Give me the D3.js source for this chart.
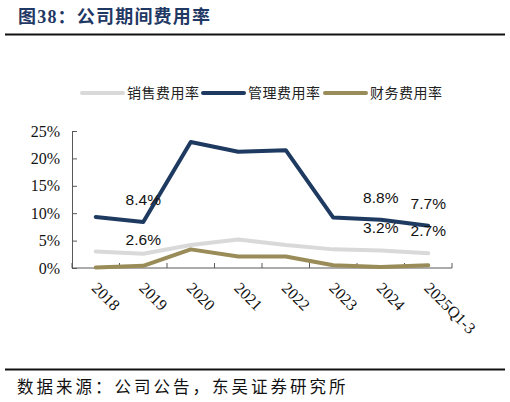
<!DOCTYPE html>
<html>
<head>
<meta charset="utf-8">
<script src="https://cdn.jsdelivr.net/npm/d3@7"></script>
<style>
  body { margin: 0; background: #fff; }
  svg { display: block; }
</style>
</head>
<body>
<div id="chart"></div>
<script>
const categories = ["2018", "2019", "2020", "2021", "2022", "2023", "2024", "2025Q1-3"];
const salesRate = [3.0, 2.6, 4.2, 5.2, 4.2, 3.4, 3.2, 2.7];
const mgmtRate = [9.3, 8.4, 23.0, 21.2, 21.5, 9.2, 8.8, 7.7];
const financeRate = [0.1, 0.4, 3.4, 2.1, 2.1, 0.5, 0.2, 0.5];
const seriesNames = ["销售费用率", "管理费用率", "财务费用率"];
const yTicks = [0, 5, 10, 15, 20, 25];
// which points get a value label: [series index, category index]
const labelled = [[1, 1], [1, 6], [1, 7], [0, 1], [0, 6], [0, 7]];

const W = 510, H = 402;
const colors = ["#d9d9d9", "#1f3a60", "#9a8c58"];
const series = [salesRate, mgmtRate, financeRate];

const svg = d3.select("#chart")
  .append("svg")
  .attr("width", W)
  .attr("height", H);

// title
svg.append("text")
  .attr("x", 18)
  .attr("y", 23)
  .attr("font-family", "'Liberation Serif', 'Noto Sans CJK SC', serif")
  .attr("font-weight", "bold")
  .attr("font-size", "18px")
  .attr("letter-spacing", "1.2px")
  .attr("fill", "#1f3864")
  .text("图38：公司期间费用率");

svg.append("line")
  .attr("x1", 5).attr("x2", 505)
  .attr("y1", 34.5).attr("y2", 34.5)
  .attr("stroke", "#111").attr("stroke-width", 2);

// scales
const x = d3.scaleBand()
  .domain(categories)
  .range([72, 452]);

const y = d3.scaleLinear()
  .domain([0, 25])
  .range([268, 131]);

const cx = d => x(d) + x.bandwidth() / 2;

// y axis
const yAxis = svg.append("g")
  .attr("transform", "translate(72,0)")
  .call(d3.axisLeft(y)
    .tickValues(yTicks)
    .tickSizeInner(-5)
    .tickSizeOuter(0)
    .tickPadding(12)
    .tickFormat(d => d + "%"));

yAxis.select(".domain").attr("stroke", "#595959");
yAxis.selectAll(".tick line").attr("stroke", "#595959");
yAxis.selectAll(".tick text")
  .attr("font-family", "'Liberation Serif', serif")
  .attr("font-size", "16px")
  .attr("fill", "#111");

// x axis (ticks between categories)
const xAxis = svg.append("g");
xAxis.append("line")
  .attr("x1", x.range()[0]).attr("x2", x.range()[1])
  .attr("y1", y(0)).attr("y2", y(0))
  .attr("stroke", "#595959");

xAxis.selectAll(".xtick")
  .data(categories.concat(["end"]))
  .join("line")
  .attr("class", "xtick")
  .attr("x1", (d, i) => x.range()[0] + i * x.step())
  .attr("x2", (d, i) => x.range()[0] + i * x.step())
  .attr("y1", y(0)).attr("y2", y(0) - 5)
  .attr("stroke", "#595959");

xAxis.selectAll(".xlabel")
  .data(categories)
  .join("text")
  .attr("class", "xlabel")
  .attr("transform", d => `translate(${cx(d) - 5},${y(0) + 21}) rotate(45)`)
  .attr("text-anchor", "start")
  .attr("font-family", "'Liberation Serif', serif")
  .attr("font-size", "16px")
  .attr("fill", "#111")
  .text(d => d);

// lines
const line = d3.line()
  .x((d, i) => cx(categories[i]))
  .y(d => y(d));

svg.selectAll(".series")
  .data(series)
  .join("path")
  .attr("class", "series")
  .attr("d", d => line(d))
  .attr("fill", "none")
  .attr("stroke", (d, i) => colors[i])
  .attr("stroke-width", 4)
  .attr("stroke-linejoin", "round")
  .attr("stroke-linecap", "round");

// value labels
svg.selectAll(".vlabel")
  .data(labelled)
  .join("text")
  .attr("class", "vlabel")
  .attr("x", d => cx(categories[d[1]]))
  .attr("y", d => {
    const v = series[d[0]][d[1]];
    // the 2019 sales label sits closer to its point in the original
    const off = (d[0] === 0 && d[1] === 1) ? 9 : 17;
    return y(v) - off;
  })
  .attr("text-anchor", "middle")
  .attr("font-family", "'Liberation Sans', Arial, sans-serif")
  .attr("font-size", "15.5px")
  .attr("fill", "#111")
  .text(d => series[d[0]][d[1]].toFixed(1) + "%");

// legend
const legendX = [82, 203, 325];
const legend = svg.selectAll(".legend")
  .data(seriesNames)
  .join("g")
  .attr("class", "legend")
  .attr("transform", (d, i) => `translate(${legendX[i]},93)`);

legend.append("line")
  .attr("x1", 0).attr("x2", 41)
  .attr("y1", 0).attr("y2", 0)
  .attr("stroke", (d, i) => colors[i])
  .attr("stroke-width", 4)
  .attr("stroke-linecap", "round");

legend.append("text")
  .attr("x", 45)
  .attr("y", 5)
  .attr("font-family", "'Noto Sans CJK SC', sans-serif")
  .attr("font-size", "14px")
  .attr("letter-spacing", "0.5px")
  .attr("fill", "#222")
  .text(d => d);

// footer
svg.append("line")
  .attr("x1", 5).attr("x2", 505)
  .attr("y1", 369.5).attr("y2", 369.5)
  .attr("stroke", "#111").attr("stroke-width", 2);

svg.append("text")
  .attr("x", 17)
  .attr("y", 393)
  .attr("font-family", "'Noto Sans CJK SC', sans-serif")
  .attr("font-size", "16.5px")
  .attr("letter-spacing", "3px")
  .attr("fill", "#111")
  .text("数据来源：公司公告，东吴证券研究所");
</script>
</body>
</html>
